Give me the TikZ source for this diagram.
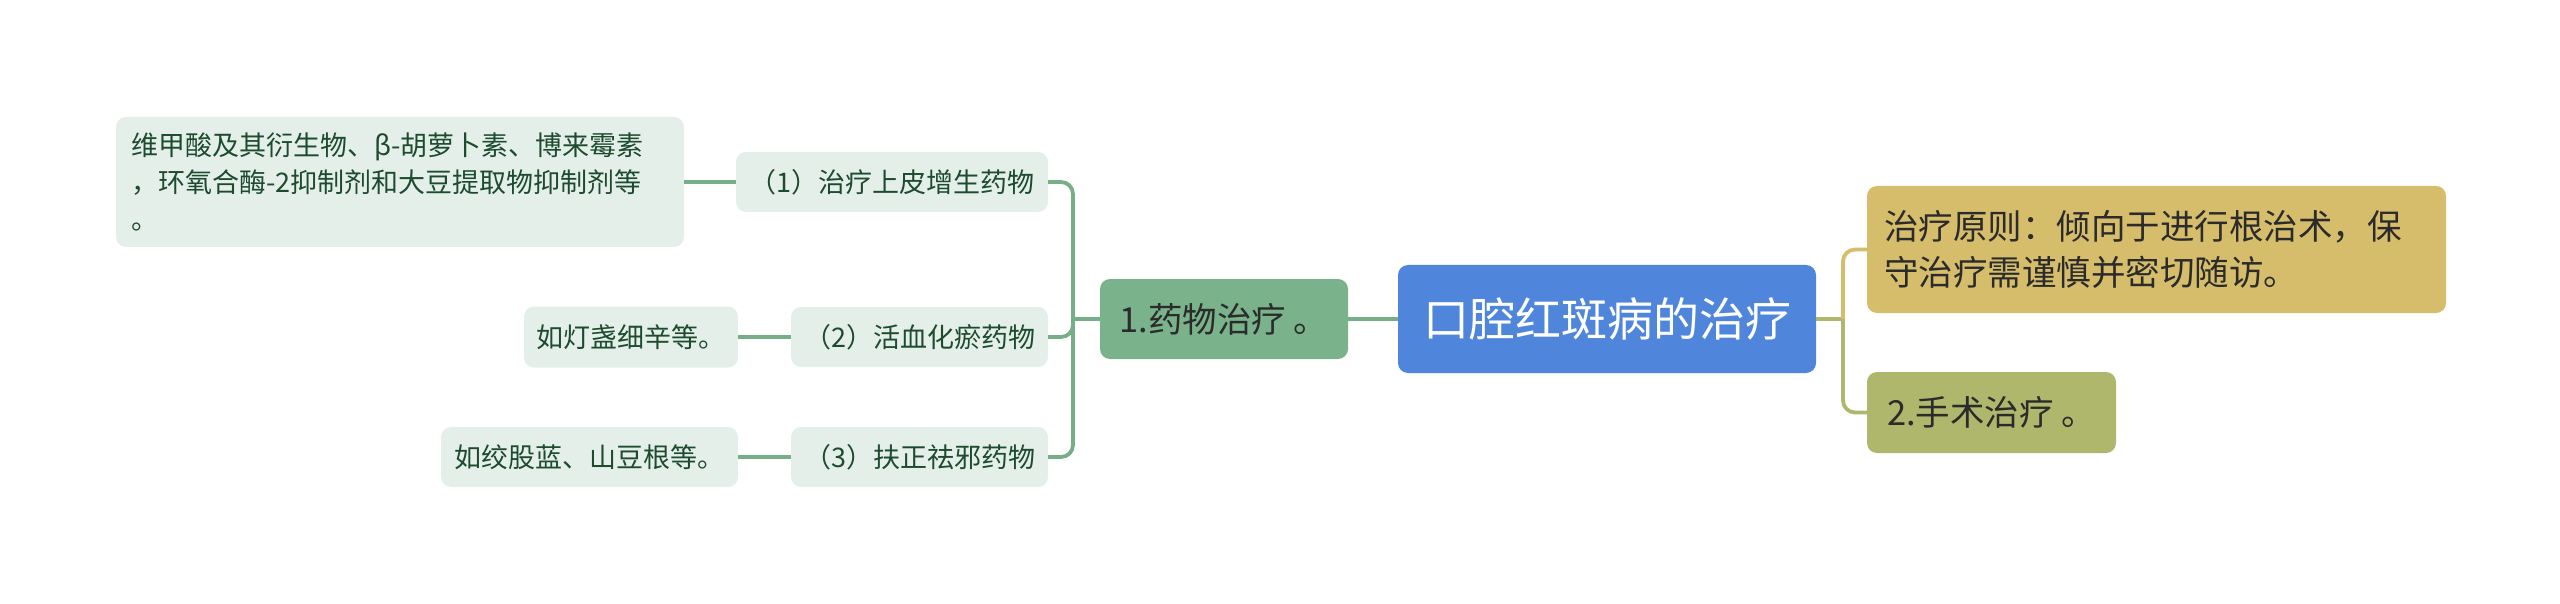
\documentclass[tikz,border=0pt]{standalone}
\usepackage{fontspec}
\setmainfont{Noto Sans CJK SC}
\usepackage{tikz}

\definecolor{rootblue}{HTML}{4F86DB}
\definecolor{medgreen}{HTML}{79B28B}
\definecolor{palegreen}{HTML}{E5EFE9}
\definecolor{leaftext}{HTML}{1D4B2F}
\definecolor{linegreen}{HTML}{76AE88}
\definecolor{goldbox}{HTML}{D5BD6B}
\definecolor{olivebox}{HTML}{AEB76C}
\definecolor{darktext}{HTML}{2B2B2B}

\begin{document}
\begin{tikzpicture}[x=1pt, y=-1pt,
    box/.style={rectangle, rounded corners=10pt, inner sep=0pt, align=center},
    topic/.style={box, fill=rootblue, text=white, font=\fontsize{46}{52}\selectfont},
    branch/.style={box, text=darktext, font=\fontsize{34.5}{46}\selectfont},
    leaf/.style={box, fill=palegreen, text=leaftext, font=\fontsize{27}{37}\selectfont},
    gline/.style={draw=linegreen, line width=3.8pt},
    goldline/.style={draw=goldbox, line width=3.8pt},
    oliveline/.style={draw=olivebox, line width=3.8pt}
]
    \useasboundingbox (0,0) rectangle (2560,604);

    \node[topic, minimum width=418pt, minimum height=108pt](root)  at (1607,319)   {口腔红斑病的治疗};
    \node[branch, fill=medgreen, minimum width=248pt, minimum height=80pt](drug) at (1224,319) {1.药物治疗 。};
    \node[branch, fill=goldbox, minimum width=579pt, minimum height=127pt,
          text width=545pt, inner xsep=17pt, align=left](principle) at (2156.5,249.5)
          {治疗原则：倾向于进行根治术，保\\守治疗需谨慎并密切随访。};
    \node[branch, fill=olivebox, minimum width=249pt, minimum height=81pt](surgery) at (1991.5,412.5) {2.手术治疗 。};

    \node[leaf, minimum width=312pt, minimum height=60pt](epi)    at (892,182)   {（1）治疗上皮增生药物};
    \node[leaf, minimum width=257pt, minimum height=60pt](blood)  at (919.5,337) {（2）活血化瘀药物};
    \node[leaf, minimum width=257pt, minimum height=60pt](fuzheng) at (919.5,457) {（3）扶正祛邪药物};

    \node[leaf, minimum width=568pt, minimum height=130pt,
          text width=538pt, inner xsep=15pt, align=left](epiex) at (400,182)
          {维甲酸及其衍生物、β-胡萝卜素、博来霉素\\，环氧合酶-2抑制剂和大豆提取物抑制剂等\\。};
    \node[leaf, minimum width=214pt, minimum height=61pt](bloodex)   at (631,337)   {如灯盏细辛等。};
    \node[leaf, minimum width=297pt, minimum height=60pt](fuzhengex) at (589.5,457) {如绞股蓝、山豆根等。};

    \coordinate (lj) at (1073,319);
    \coordinate (rj) at (1843,319);

    % left side
    \draw[gline] (root.west) -- (drug.east);
    \draw[gline] (drug.west) -- (lj);
    \draw[gline, rounded corners=12pt] (lj) |- (epi.east);
    \draw[gline, rounded corners=12pt] (lj) |- (blood.east);
    \draw[gline, rounded corners=12pt] (lj) |- (fuzheng.east);
    \draw[gline] (epi.west) -- (epiex.east);
    \draw[gline] (blood.west) -- (bloodex.east);
    \draw[gline] (fuzheng.west) -- (fuzhengex.east);

    % right side
    \draw[oliveline] (root.east) -- (rj);
    \draw[goldline, rounded corners=12pt] (rj) |- (principle.west);
    \draw[oliveline, rounded corners=12pt] (rj) |- (surgery.west);
\end{tikzpicture}
\end{document}
